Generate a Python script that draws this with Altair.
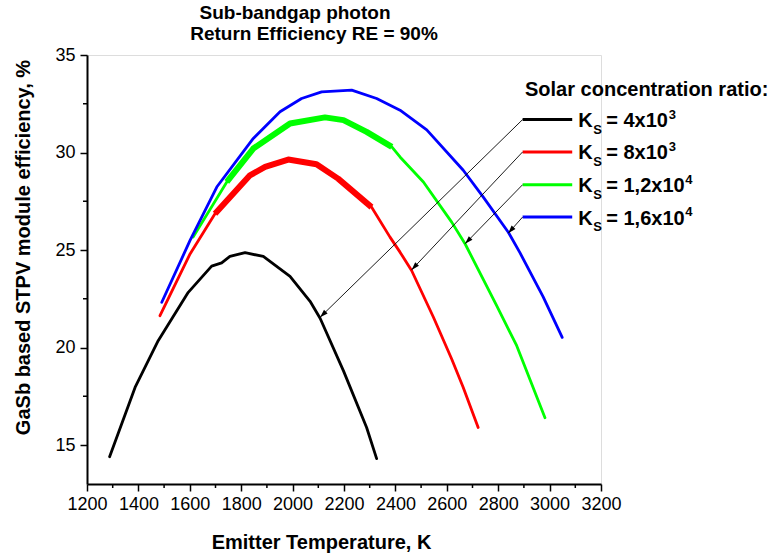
import math
import altair as alt
import pandas as pd

# ---------------- data ----------------
SERIES = ["4x10^3", "8x10^3", "1,2x10^4", "1,6x10^4"]
COLORS = ["#000000", "#FF0000", "#00FF00", "#0000FF"]

T_black = [1288, 1387, 1477, 1594, 1685, 1724, 1756, 1815, 1886, 1990, 2068, 2107, 2198, 2288, 2327]
E_black = [14.4, 17.95, 20.35, 22.83, 24.17, 24.34, 24.67, 24.86, 24.67, 23.65, 22.37, 21.5, 18.8, 15.9, 14.3]

T_red = [1484, 1601, 1698, 1834, 1893, 1983, 2093, 2177, 2307, 2379, 2418, 2463, 2548, 2619, 2664, 2722]
E_red = [21.63, 24.8, 26.86, 28.83, 29.26, 29.64, 29.4, 28.66, 27.2, 25.66, 24.89, 23.95, 21.55, 19.41, 17.95, 15.9]

T_green = [1613, 1744, 1847, 1990, 2126, 2198, 2288, 2386, 2418, 2509, 2619, 2671, 2794, 2872, 2982]
E_green = [25.66, 28.49, 30.2, 31.49, 31.8, 31.66, 31.06, 30.29, 29.77, 28.49, 26.43, 25.32, 22.15, 20.09, 16.4]

T_blue = [1491, 1601, 1705, 1847, 1951, 2035, 2113, 2230, 2327, 2418, 2522, 2664, 2742, 2840, 2885, 2975, 3049]
E_blue = [22.32, 25.49, 28.23, 30.72, 32.09, 32.77, 33.11, 33.2, 32.77, 32.17, 31.16, 29.09, 27.71, 25.9, 24.85, 22.6, 20.52]

# emphasised (thick) stretches of the red and green curves
THICK_RANGES = {"8x10^3": (1698, 2307), "1,2x10^4": (1744, 2386)}

# legend rows (data units) and arrow tips on the curves
LEG_T_START = 2895
LEG_T_END = 3088
LEG_E = [31.69, 30.03, 28.35, 26.69]
TIP_T = [2107, 2463, 2671, 2839]
TIP_E = [21.55, 23.98, 25.32, 25.86]
LEG_MANTISSA = ["= 4x10", "= 8x10", "= 1,2x10", "= 1,6x10"]
LEG_EXP = ["3", "3", "4", "4"]

X_TICKS = list(range(1200, 3201, 200))
X_MINOR = list(range(1300, 3200, 200))
Y_TICKS = [15, 20, 25, 30, 35]
Y_MINOR = [17.5, 22.5, 27.5, 32.5]

# ---------------- layout ----------------
W, H = 514, 429
XDOM, YDOM = [1200, 3200], [13, 35]
FONT = "Liberation Sans"

rows = []
for name, T, E in [(SERIES[0], T_black, E_black), (SERIES[1], T_red, E_red),
                   (SERIES[2], T_green, E_green), (SERIES[3], T_blue, E_blue)]:
    for i, (t, e) in enumerate(zip(T, E)):
        rows.append({"series": name, "T": t, "E": e, "i": i})
curves = pd.DataFrame(rows)

thick = pd.concat([
    curves[(curves.series == s) & (curves["T"] >= lo) & (curves["T"] <= hi)]
    for s, (lo, hi) in THICK_RANGES.items()
])

px_k = W / (XDOM[1] - XDOM[0])
px_e = H / (YDOM[1] - YDOM[0])
ang = []
for le, tt, te in zip(LEG_E, TIP_T, TIP_E):
    dx = (tt - LEG_T_START) * px_k
    dy = -(te - le) * px_e
    a = math.degrees(math.atan2(dx, -dy)) % 360
    ang.append(a)

legend = pd.DataFrame({
    "series": SERIES, "t0": LEG_T_START, "t1": LEG_T_END, "e": LEG_E,
    "tipT": TIP_T, "tipE": TIP_E, "ang": ang,
    "mant": LEG_MANTISSA, "exp": LEG_EXP, "k": "K", "s": "S",
})

xs = alt.Scale(domain=XDOM, nice=False, zero=False)
ys = alt.Scale(domain=YDOM, nice=False, zero=False)
color = alt.Color("series:N", scale=alt.Scale(domain=SERIES, range=COLORS), legend=None)

x_axis = alt.Axis(values=X_TICKS, format="d", title="Emitter Temperature, K",
                  titleFont=FONT, titleFontSize=20, titleFontWeight="bold", titleColor="black",
                  titleX=234, titleY=64, titleBaseline="alphabetic", titleAlign="center",
                  labelFont=FONT, labelFontSize=18, labelColor="black", labelFlush=False,
                  labelOverlap=False, labelPadding=4, tickSize=7, tickWidth=1.5, tickColor="black",
                  domainColor="black", domainWidth=2, grid=False)
y_axis = alt.Axis(values=Y_TICKS, title="GaSb based STPV module efficiency, %",
                  titleFont=FONT, titleFontSize=20, titleFontWeight="bold", titleColor="black",
                  titleX=-58, titleY=192, titleAngle=270, titleBaseline="alphabetic", titleAlign="center",
                  labelFont=FONT, labelFontSize=18, labelColor="black", labelPadding=5,
                  tickSize=7, tickWidth=1.5, tickColor="black",
                  domainColor="black", domainWidth=2, grid=False)

base = alt.Chart(curves)

thin_lines = base.mark_line(strokeWidth=2.8, strokeJoin="round", strokeCap="round").encode(
    x=alt.X("T:Q", scale=xs, axis=x_axis),
    y=alt.Y("E:Q", scale=ys, axis=y_axis),
    color=color, detail="series:N", order="i:Q",
)
thick_lines = alt.Chart(thick).mark_line(strokeWidth=6, strokeJoin="round", strokeCap="butt").encode(
    x=alt.X("T:Q", scale=xs), y=alt.Y("E:Q", scale=ys), color=color, detail="series:N", order="i:Q",
)

minor_x = alt.Chart(pd.DataFrame({"T": X_MINOR})).mark_rule(color="black", strokeWidth=1.5).encode(
    x=alt.X("T:Q", scale=xs), y=alt.value(H), y2=alt.value(H + 4))
minor_y = alt.Chart(pd.DataFrame({"E": Y_MINOR})).mark_rule(color="black", strokeWidth=1.5).encode(
    y=alt.Y("E:Q", scale=ys), x=alt.value(0), x2=alt.value(-4))

lb = alt.Chart(legend)
leg_lines = lb.mark_rule(strokeWidth=3).encode(
    x=alt.X("t0:Q", scale=xs), x2="t1:Q", y=alt.Y("e:Q", scale=ys), color=color)
arrows = lb.mark_rule(strokeWidth=0.9, color="black").encode(
    x=alt.X("t0:Q", scale=xs), x2="tipT:Q", y=alt.Y("e:Q", scale=ys), y2="tipE:Q")
heads = lb.mark_point(shape="M0,0 L-0.32,1 L0.32,1 Z", filled=True, opacity=1, color="black",
                      size=256, strokeWidth=0).encode(
    x=alt.X("tipT:Q", scale=xs), y=alt.Y("tipE:Q", scale=ys), angle=alt.Angle("ang:Q", scale=None))

txt = dict(font=FONT, fontWeight="bold", color="black", align="left", baseline="alphabetic")
k_text = lb.mark_text(fontSize=20, dx=6, dy=7.5, **txt).encode(
    x=alt.X("t1:Q", scale=xs), y=alt.Y("e:Q", scale=ys), text="k:N")
s_text = lb.mark_text(fontSize=13, dx=21, dy=14, **txt).encode(
    x=alt.X("t1:Q", scale=xs), y=alt.Y("e:Q", scale=ys), text="s:N")
m_text = lb.mark_text(fontSize=20, dx=34, dy=7.5, **txt).encode(
    x=alt.X("t1:Q", scale=xs), y=alt.Y("e:Q", scale=ys), text="mant:N")
e3_text = lb.transform_filter(alt.datum.exp == "3").mark_text(fontSize=13, dx=96.5, dy=-1, **txt).encode(
    x=alt.X("t1:Q", scale=xs), y=alt.Y("e:Q", scale=ys), text="exp:N")
e4_text = lb.transform_filter(alt.datum.exp == "4").mark_text(fontSize=13, dx=113, dy=-1, **txt).encode(
    x=alt.X("t1:Q", scale=xs), y=alt.Y("e:Q", scale=ys), text="exp:N")

one = pd.DataFrame({"a": [0]})
def label(s, x, y, size=20, align="left"):
    return alt.Chart(one).mark_text(font=FONT, fontWeight="bold", fontSize=size, color="black",
                                    align=align, baseline="alphabetic").encode(
        x=alt.value(x), y=alt.value(y), text=alt.value(s))

title1 = label("Sub-bandgap photon", 208, -36, size=19, align="center")
title2 = label("Return Efficiency RE = 90%", 227, -15, size=19, align="center")
leg_title = label("Solar concentration ratio:", 438, 41)

chart = alt.layer(
    minor_x, minor_y, thin_lines, thick_lines, leg_lines, arrows, heads,
    k_text, s_text, m_text, e3_text, e4_text, title1, title2, leg_title,
).properties(
    width=W, height=H, autosize="none",
    padding={"left": 87, "top": 55, "right": 171, "bottom": 75},
).configure_view(stroke=None).configure(background="white")

chart.save("out.html", embed_options={"renderer": "svg", "actions": False})
